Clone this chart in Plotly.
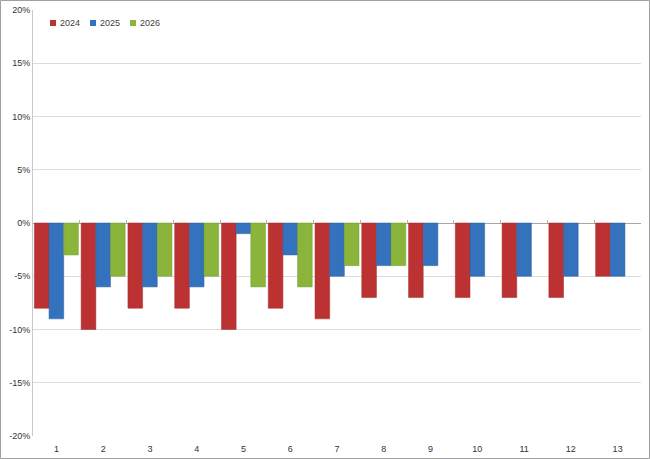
import plotly.graph_objects as go

categories = [str(i) for i in range(1, 14)]
series_names = ["2024", "2025", "2026"]
values_2024 = [-8, -10, -8, -8, -10, -8, -9, -7, -7, -7, -7, -7, -5]
values_2025 = [-9, -6, -6, -6, -1, -3, -5, -4, -4, -5, -5, -5, -5]
values_2026 = [-3, -5, -5, -5, -6, -6, -4, -4, None, None, None, None, None]
tick_vals = [20, 15, 10, 5, 0, -5, -10, -15, -20]
tick_text = ["20%", "15%", "10%", "5%", "0%", "-5%", "-10%", "-15%", "-20%"]

colors = ["#BC3232", "#3572BE", "#8BB53A"]
lines = ["#A02828", "#2A5C9E", "#6E9A2A"]

W, H = 650, 459
L, R, T, B = 33, 9, 10, 23
pw, ph = W - L - R, H - T - B
y_min, y_max = -20, 20

fig = go.Figure()
for name, vals, c, lc in zip(series_names, [values_2024, values_2025, values_2026], colors, lines):
    fig.add_trace(go.Bar(x=categories, y=vals, name=name, showlegend=False,
                         marker=dict(color=c, line=dict(color=lc, width=0.5))))

# compact legend drawn as small squares with labels (matching the reference style)
leg_x0, leg_step, leg_y = 50, 40, 23
for i, (name, c) in enumerate(zip(series_names, colors)):
    px = leg_x0 + i * leg_step
    fig.add_shape(type="rect", xref="paper", yref="paper",
                  x0=(px - L) / pw, x1=(px + 6 - L) / pw,
                  y0=(H - B - leg_y - 3) / ph, y1=(H - B - leg_y + 3) / ph,
                  line=dict(width=0), fillcolor=c)
    fig.add_annotation(xref="paper", yref="paper", x=(px + 8 - L) / pw,
                       y=(H - B - leg_y) / ph, text=name, showarrow=False,
                       xanchor="left", yanchor="middle",
                       font=dict(size=9, color="#404040"))

fig.update_layout(
    width=W, height=H,
    margin=dict(l=L, r=R, t=T, b=B, autoexpand=False),
    paper_bgcolor="white", plot_bgcolor="white",
    barmode="group", bargap=0.06, bargroupgap=0,
    font=dict(family="Liberation Sans, Arial, sans-serif", size=9, color="#404040"),
    showlegend=False,
    xaxis=dict(showgrid=False, showline=False, ticks="", tickfont=dict(size=9, color="#333333"),
               automargin=False, ticklabelstandoff=6),
    xaxis2=dict(matches="x", overlaying="x", anchor="free",
                position=(0 - y_min) / (y_max - y_min),
                showticklabels=False, ticks="inside", tickson="boundaries",
                ticklen=3, tickcolor="#B0B0B0", showgrid=False, showline=False,
                automargin=False),
    yaxis=dict(range=[y_min, y_max], tickvals=tick_vals, ticktext=tick_text,
               showgrid=True, gridcolor="#DCDCDC", gridwidth=1,
               zeroline=True, zerolinecolor="#A6A6A6", zerolinewidth=1,
               showline=True, linecolor="#C8C8C8", linewidth=1,
               ticks="", tickfont=dict(size=9, color="#333333"), automargin=False),
)
# invisible helper trace so the zero-line tick axis is drawn over the categories
fig.add_trace(go.Bar(x=categories, y=[None] * len(categories), xaxis="x2",
                     showlegend=False, hoverinfo="skip"))
fig.add_shape(type="rect", xref="paper", yref="paper",
              x0=(0.5 - L) / pw, x1=(W - 0.5 - L) / pw,
              y0=-(B - 0.5) / ph, y1=1 + (T - 0.5) / ph,
              line=dict(color="#A0A0A0", width=1), fillcolor="rgba(0,0,0,0)", layer="below")
fig.write_html("out.html", config={"displayModeBar": False},
               post_script="document.body.style.margin='0';document.body.style.overflow='hidden';")
